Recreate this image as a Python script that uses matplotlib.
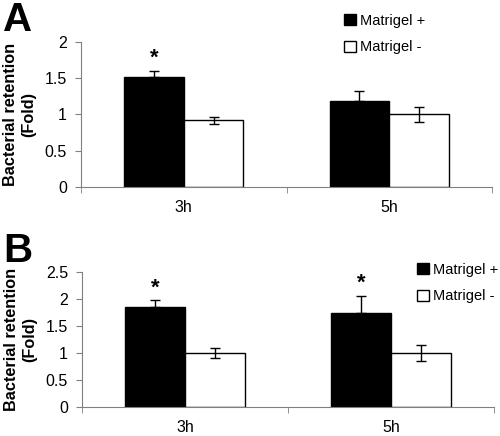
import numpy as np
import matplotlib
matplotlib.use("Agg")
import matplotlib.pyplot as plt
from matplotlib.patches import Patch

plt.rcParams['font.family'] = ['Liberation Sans', 'DejaVu Sans']

times = ["3h", "5h"]
legend_labels = ["Matrigel +", "Matrigel -"]

# panel A
a_plus = [1.52, 1.18]
a_plus_err = [0.08, 0.15]
a_minus = [0.92, 1.00]
a_minus_err = [0.05, 0.11]
a_star = [True, False]

# panel B
b_plus = [1.85, 1.73]
b_plus_err = [0.12, 0.32]
b_minus = [1.00, 1.00]
b_minus_err = [0.10, 0.15]
b_star = [True, True]

fig = plt.figure(figsize=(5, 4.36), dpi=100)
axA = fig.add_axes([0.162, 0.572, 0.822, 0.331])
axB = fig.add_axes([0.164, 0.066, 0.824, 0.311])

gray = "#808080"
w = 0.29


def draw(ax, plus, plus_err, minus, minus_err, stars, ymax, ystep, leg_xy):
    x = np.arange(len(times))
    ax.bar(x - w / 2, plus, w, color="black", edgecolor="black", linewidth=1)
    ax.bar(x + w / 2, minus, w, color="white", edgecolor="black", linewidth=1)
    ax.errorbar(x - w / 2, plus, yerr=[np.zeros(len(x)), plus_err], fmt="none",
                ecolor="black", elinewidth=1, capsize=3.6, capthick=1)
    ax.errorbar(x + w / 2, minus, yerr=minus_err, fmt="none",
                ecolor="black", elinewidth=1, capsize=3.6, capthick=1)
    for i, s in enumerate(stars):
        if s:
            ax.text(x[i] - w / 2, plus[i] + plus_err[i] + ymax * 0.015, "*",
                    ha="center", va="bottom", fontsize=16, fontweight="bold")
    ax.set_xlim(-0.5, len(times) - 0.5)
    ax.set_ylim(0, ymax)
    ax.set_yticks(np.arange(0, ymax + 0.001, ystep))
    ax.set_yticklabels(["%g" % v for v in np.arange(0, ymax + 0.001, ystep)])
    ax.set_xticks(x)
    ax.set_xticklabels(times)
    ax.set_xticks(np.arange(-0.5, len(times)), minor=True)
    ax.tick_params(axis="x", which="major", length=0, pad=9.5, labelsize=11.5)
    ax.tick_params(axis="x", which="minor", length=4, color=gray, direction="out")
    ax.tick_params(axis="y", length=4, color=gray, labelsize=11.5, pad=6)
    for sp in ["top", "right"]:
        ax.spines[sp].set_visible(False)
    for sp in ["left", "bottom"]:
        ax.spines[sp].set_color(gray)
    ax.set_ylabel("Bacterial retention\n(Fold)", fontsize=11.7, fontweight="bold",
                  labelpad=6, linespacing=1.3)
    handles = [Patch(facecolor="black", edgecolor="black"),
               Patch(facecolor="white", edgecolor="black")]
    fig.legend(handles, legend_labels, loc="upper left", bbox_to_anchor=leg_xy,
               frameon=False, fontsize=10.5, handlelength=0.8, handleheight=0.8,
               handletextpad=0.3, labelspacing=0.85, borderaxespad=0, borderpad=0)


draw(axA, a_plus, a_plus_err, a_minus, a_minus_err, a_star, 2, 0.5, (0.688, 0.968))
draw(axB, b_plus, b_plus_err, b_minus, b_minus_err, b_star, 2.5, 0.5, (0.834, 0.397))

fig.text(0.006, 0.998, "A", fontsize=29, fontweight="bold", va="top")
fig.text(0.006, 0.468, "B", fontsize=29, fontweight="bold", va="top")

fig.savefig("out.png", dpi=100)
